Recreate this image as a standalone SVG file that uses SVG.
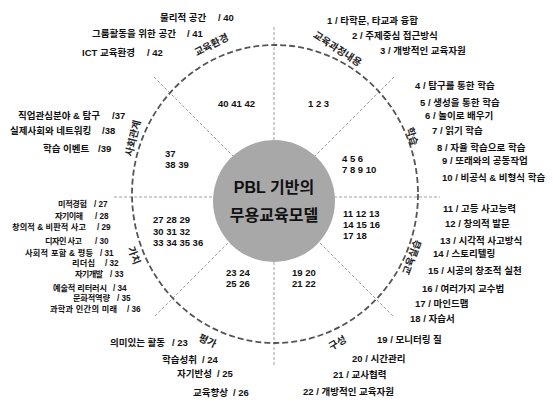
<svg xmlns="http://www.w3.org/2000/svg" width="553" height="400" viewBox="0 0 553 400">
<style>
.t{font-family:"Liberation Sans","Noto Sans CJK KR",sans-serif;font-size:9.5px;font-weight:bold;fill:#111}
.v{font-family:"Liberation Sans","Noto Sans CJK KR",sans-serif;font-size:8.2px;font-weight:bold;fill:#111}
.n{font-family:"Liberation Sans","Noto Sans CJK KR",sans-serif;font-size:9.5px;font-weight:bold;fill:#111}
.a{font-family:"Noto Sans CJK KR","Liberation Sans",sans-serif;font-size:10px;font-weight:bold;fill:#222;text-anchor:middle;dominant-baseline:central}
.c{font-family:"Liberation Sans","Noto Sans CJK KR",sans-serif;font-size:16px;font-weight:bold;fill:#111;text-anchor:middle}
.div{stroke:#a0a0a0;stroke-width:1;stroke-dasharray:3 2;fill:none}
.ring{stroke:#555;stroke-width:1.8;stroke-dasharray:6 3;fill:none}
</style>
<rect width="553" height="400" fill="#fff"/>
<g id="connectors">
<line class="div" x1="274" y1="27" x2="274" y2="365"/>
<line class="div" x1="114" y1="197" x2="440" y2="197"/>
<line class="div" x1="154" y1="77" x2="394" y2="317"/>
<line class="div" x1="394" y1="77" x2="154" y2="317"/>
<ellipse class="ring" cx="275" cy="194" rx="143" ry="149"/>
</g>
<g id="hub">
<circle cx="274" cy="201" r="61" fill="#a8a8a8"/>
<text class="c" x="274" y="193">PBL 기반의</text>
<text class="c" x="274" y="221">무용교육모델</text>
</g>
<g id="sector-env">
<text class="a" transform="translate(211,44) rotate(-27)">교육환경</text>
<text class="n" x="218" y="107">40 41 42</text>
<text class="t" x="160" y="21">물리적 공간<tspan x="218">/ 40</tspan></text>
<text class="t" x="92" y="37">그룹활동을 위한 공간<tspan x="187">/ 41</tspan></text>
<text class="t" x="82" y="56">ICT 교육환경<tspan x="147">/ 42</tspan></text>
</g>
<g id="sector-curriculum">
<text class="a" transform="translate(338,48) rotate(33)">교육과정내용</text>
<text class="n" x="308" y="107">1 2 3</text>
<text class="t" x="327" y="24">1 / 타학문, 타교과 융합</text>
<text class="t" x="352" y="39">2 /  주제중심 접근방식</text>
<text class="t" x="380" y="54">3 / 개방적인 교육자원</text>
</g>
<g id="sector-learning">
<text class="a" transform="translate(413,136) rotate(72)">학습</text>
<text class="n" x="342" y="162">4 5 6</text>
<text class="n" x="342" y="173">7 8 9 10</text>
<text class="t" x="415" y="89">4 /  탐구를 통한 학습</text>
<text class="t" x="420" y="106">5 / 생성을 통한 학습</text>
<text class="t" x="425" y="119">6 / 놀이로 배우기</text>
<text class="t" x="432" y="134">7 / 읽기 학습</text>
<text class="t" x="437" y="151">8 /  자율 학습으로 학습</text>
<text class="t" x="442" y="164">9 /  또래와의 공동작업</text>
<text class="t" x="442" y="181">10 /   비공식 &amp; 비형식 학습</text>
</g>
<g id="sector-method">
<text class="a" transform="translate(411,257) rotate(-70)">교육실습</text>
<text class="n" x="343" y="217">11 12 13</text>
<text class="n" x="343" y="228">14 15 16</text>
<text class="n" x="343" y="239">17 18</text>
<text class="t" x="443" y="212">11 /  고등 사고능력</text>
<text class="t" x="445" y="227">12 /  창의적 발문</text>
<text class="t" x="440" y="244">13 /  시각적 사고방식</text>
<text class="t" x="433" y="257">14 /  스토리텔링</text>
<text class="t" x="428" y="274">15 /  시공의 창조적 실천</text>
<text class="t" x="422" y="292">16 /  여러가지 교수법</text>
<text class="t" x="415" y="307">17 /  마인드맵</text>
<text class="t" x="410" y="322">18 /  자습서</text>
</g>
<g id="sector-structure">
<text class="a" transform="translate(337,342) rotate(-30)">구성</text>
<text class="n" x="292" y="276">19 20</text>
<text class="n" x="292" y="287">21 22</text>
<text class="t" x="377" y="343">19 / 모니터링 질</text>
<text class="t" x="352" y="362">20 / 시간관리</text>
<text class="t" x="333" y="378">21 /  교사협력</text>
<text class="t" x="303" y="395">22 / 개방적인 교육자원</text>
</g>
<g id="sector-evaluation">
<text class="a" transform="translate(208,340) rotate(25)">평가</text>
<text class="n" x="226" y="276">23 24</text>
<text class="n" x="226" y="287">25 26</text>
<text class="t" x="110" y="346">의미있는 활동<tspan x="172">/ 23</tspan></text>
<text class="t" x="162" y="363">학습성취<tspan x="202">/ 24</tspan></text>
<text class="t" x="177" y="377">자기반성<tspan x="217">/ 25</tspan></text>
<text class="t" x="193" y="396">교육향상<tspan x="233">/ 26</tspan></text>
</g>
<g id="sector-value">
<text class="a" transform="translate(135,255) rotate(70)">가치</text>
<text class="n" x="153" y="223">27 28 29</text>
<text class="n" x="153" y="235">30 31 32</text>
<text class="n" x="153" y="246">33 34 35 36</text>
<text class="v" x="58" y="207" textLength="29" lengthAdjust="spacing">미적경험</text><text class="v" x="94" y="207">/ 27</text>
<text class="v" x="55" y="219" textLength="28" lengthAdjust="spacing">자기이해</text><text class="v" x="95" y="219">/ 28</text>
<text class="v" x="12" y="230" textLength="74" lengthAdjust="spacing">창의적 &amp; 비판적 사고</text><text class="v" x="97" y="230">/ 29</text>
<text class="v" x="45" y="244" textLength="37" lengthAdjust="spacing">디자인 사고</text><text class="v" x="95" y="244">/ 30</text>
<text class="v" x="25" y="256" textLength="68" lengthAdjust="spacing">사회적 포함 &amp; 평등</text><text class="v" x="100" y="256">/ 31</text>
<text class="v" x="72" y="266" textLength="23" lengthAdjust="spacing">리더십</text><text class="v" x="105" y="266">/ 32</text>
<text class="v" x="75" y="277" textLength="28" lengthAdjust="spacing">자기개발</text><text class="v" x="110" y="277">/ 33</text>
<text class="v" x="53" y="291" textLength="54" lengthAdjust="spacing">예술적 리터러시</text><text class="v" x="113" y="291">/ 34</text>
<text class="v" x="73" y="301" textLength="37" lengthAdjust="spacing">문화적역량</text><text class="v" x="117" y="301">/ 35</text>
<text class="v" x="50" y="312" textLength="67" lengthAdjust="spacing">과학과 인간의 미래</text><text class="v" x="127" y="312">/ 36</text>
</g>
<g id="sector-relation">
<text class="a" transform="translate(132,138) rotate(-76)">사회관계</text>
<text class="n" x="165" y="157">37</text>
<text class="n" x="165" y="168">38 39</text>
<text class="t" x="18" y="119">직업관심분야 &amp; 탐구<tspan x="112">/37</tspan></text>
<text class="t" x="10" y="134">실제사회와 네트워킹<tspan x="102">/38</tspan></text>
<text class="t" x="43" y="152">학습 이벤트<tspan x="98">/39</tspan></text>
</g>
</svg>
